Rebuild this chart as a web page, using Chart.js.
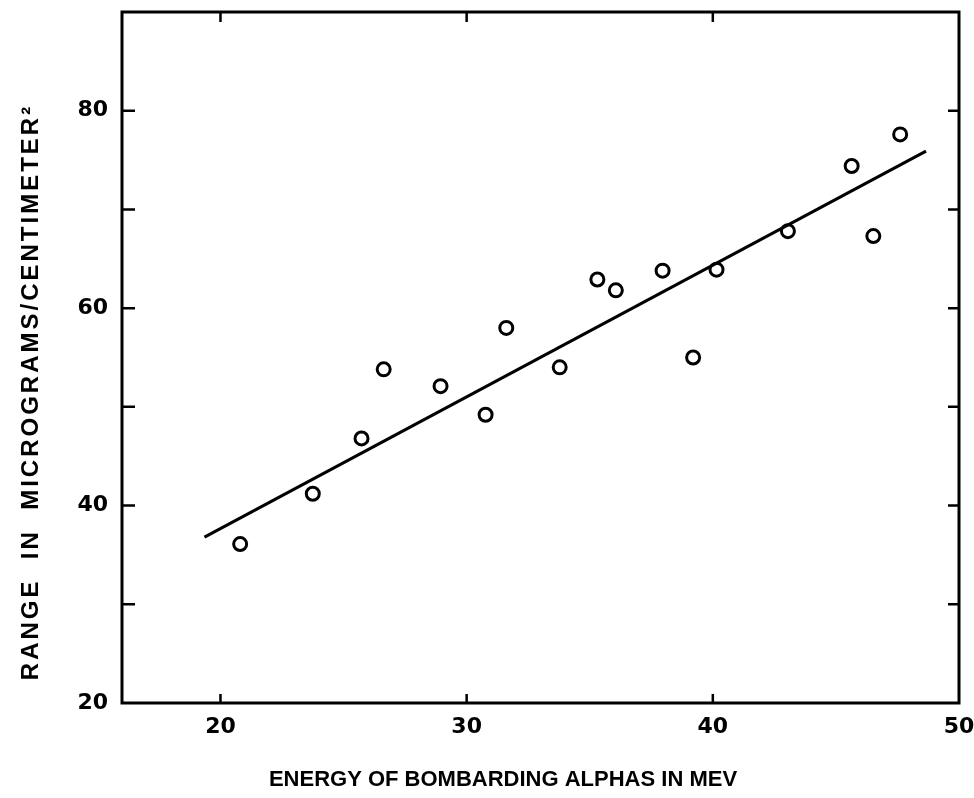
<!DOCTYPE html>
<html>
<head>
<meta charset="utf-8">
<script src="https://cdn.jsdelivr.net/npm/chart.js@4"></script>
<style>
  html, body { margin: 0; padding: 0; background: #fff; }
  #wrap { width: 974px; height: 798px; }
</style>
</head>
<body>
<div id="wrap"><canvas id="myChart" width="974" height="798"></canvas></div>
<script>
// measured points (energy in MeV, range in micrograms/cm^2)
const energy = [20.8, 23.75, 25.73, 26.63, 28.94, 30.77, 31.61, 33.78, 35.31, 36.06, 37.96, 39.2, 40.15, 43.05, 45.64, 46.52, 47.61];
const rangeValues = [36.1, 41.2, 46.8, 53.8, 52.1, 49.2, 58.0, 54.0, 62.9, 61.8, 63.8, 55.0, 63.9, 67.8, 74.4, 67.3, 77.6];

// hand-drawn fit line end points
const fitEnergy = [19.35, 48.66];
const fitRange = [36.8, 75.9];

const xTicks = [20, 30, 40, 50];
const yTicks = [20, 30, 40, 50, 60, 70, 80, 90];
const yLabels = [20, 40, 60, 80];

const xTitle = 'ENERGY OF BOMBARDING ALPHAS IN MEV';
const yTitle = 'RANGE  IN  MICROGRAMS/CENTIMETER\u00B2';

const font = '"DejaVu Sans", sans-serif';
const titleFont = '"Liberation Sans", Arial, sans-serif';

// frame, inward ticks and axis titles
const framePlugin = {
    id: 'frame',
    afterDraw(chart) {
        const ctx = chart.ctx;
        const a = chart.chartArea;
        const xs = chart.scales.x;
        const ys = chart.scales.y;
        ctx.save();
        ctx.strokeStyle = '#000';
        ctx.lineWidth = 3;
        ctx.strokeRect(a.left, a.top, a.right - a.left, a.bottom - a.top);

        ctx.lineWidth = 2.5;
        ctx.beginPath();
        xTicks.forEach(v => {
            const px = xs.getPixelForValue(v);
            if (px >= a.right - 2) return;
            ctx.moveTo(px, a.bottom); ctx.lineTo(px, a.bottom - 9);
            ctx.moveTo(px, a.top); ctx.lineTo(px, a.top + 10);
        });
        yTicks.forEach(v => {
            const py = ys.getPixelForValue(v);
            if (py >= a.bottom - 2 || py <= a.top + 2) return;
            ctx.moveTo(a.left, py); ctx.lineTo(a.left + 13, py);
            ctx.moveTo(a.right, py); ctx.lineTo(a.right - 11, py);
        });
        ctx.stroke();

        ctx.fillStyle = '#000';
        ctx.textAlign = 'center';
        ctx.textBaseline = 'middle';
        ctx.font = 'bold 22px ' + titleFont;
        ctx.letterSpacing = '0px';
        ctx.fillText(xTitle, 503, 780);

        ctx.font = 'bold 24px ' + titleFont;
        ctx.letterSpacing = '3px';
        ctx.translate(31, 392);
        ctx.rotate(-Math.PI / 2);
        ctx.fillText(yTitle, 0, 0);
        ctx.restore();
    }
};

const ctx = document.getElementById('myChart').getContext('2d');
new Chart(ctx, {
    type: 'scatter',
    data: {
        datasets: [{
            label: 'Range',
            data: energy.map((e, i) => ({ x: e, y: rangeValues[i] })),
            pointStyle: 'circle',
            pointRadius: 6.5,
            pointBorderWidth: 3,
            pointBorderColor: '#000',
            pointBackgroundColor: 'rgba(255,255,255,0)',
            showLine: false
        }, {
            type: 'line',
            label: 'Fit',
            data: fitEnergy.map((e, i) => ({ x: e, y: fitRange[i] })),
            borderColor: '#000',
            borderWidth: 3,
            pointRadius: 0,
            fill: false
        }]
    },
    options: {
        responsive: false,
        animation: false,
        layout: { padding: 0 },
        plugins: {
            legend: { display: false },
            tooltip: { enabled: false }
        },
        scales: {
            x: {
                type: 'linear',
                min: 16,
                max: 50,
                afterBuildTicks: s => { s.ticks = xTicks.map(v => ({ value: v })); },
                afterFit: s => {
                    s.height = 95;
                    s.paddingLeft = 0;
                    s.paddingRight = 15;
                },
                grid: { display: false },
                border: { display: false },
                ticks: {
                    color: '#000',
                    padding: 3,
                    maxRotation: 0,
                    font: { family: font, size: 22, weight: 'bold' }
                }
            },
            y: {
                type: 'linear',
                min: 20,
                max: 90,
                afterBuildTicks: s => { s.ticks = yLabels.map(v => ({ value: v })); },
                afterFit: s => {
                    s.width = 122;
                    s.paddingTop = 12;
                    s.paddingBottom = 0;
                },
                grid: { display: false },
                border: { display: false },
                ticks: {
                    color: '#000',
                    padding: 6,
                    font: { family: font, size: 22, weight: 'bold' }
                }
            }
        }
    },
    plugins: [framePlugin]
});
</script>
</body>
</html>
